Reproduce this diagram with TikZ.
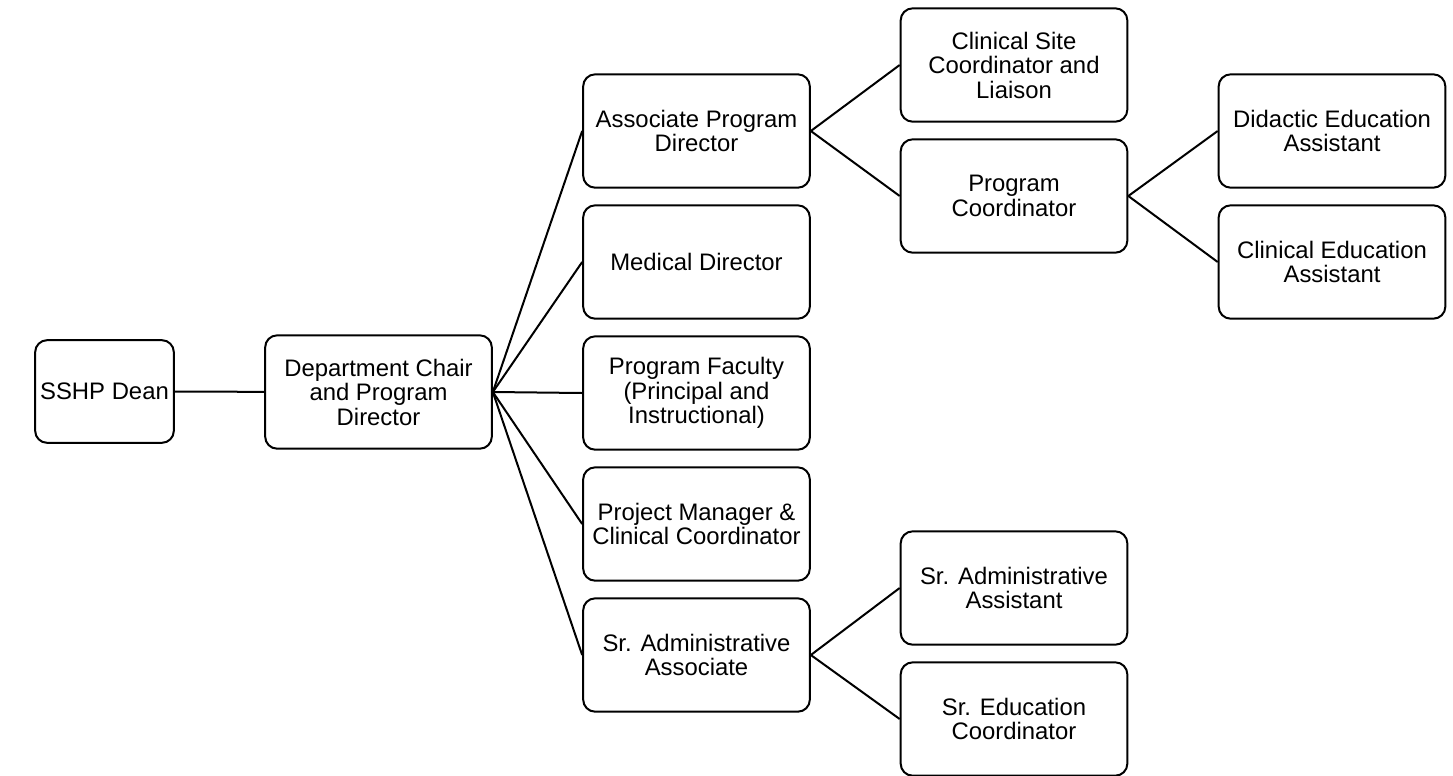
\documentclass[tikz,border=0pt]{standalone}
\usepackage{fontspec}
\setmainfont{Liberation Sans}
\begin{document}
\begin{tikzpicture}[x=0.75pt,y=-0.75pt,
    box/.style={draw, line width=1.5pt, rounded corners=9pt, minimum width=170pt,
        minimum height=85pt, inner sep=2pt, align=center,
        font=\fontsize{17.9pt}{18.4pt}\selectfont},
    link/.style={line width=1.5pt}]
    %\draw[help lines] (0,0) grid (1453,775);
    \useasboundingbox (0,0) rectangle (1453,775);
    \node[box, minimum width=104pt, minimum height=77pt] (dean) at (104.5,391.5) {SSHP Dean};
    \node[box] (chair) at (378.5,392) {Department Chair\\and Program\\Director};
    \node[box] (apd) at (696.5,131) {Associate Program\\Director};
    \node[box] (meddir) at (696.5,262) {Medical Director};
    \node[box] (faculty) at (696.5,393) {Program Faculty\\(Principal and\\Instructional)};
    \node[box] (projmgr) at (696.5,524) {Project Manager \&\\Clinical Coordinator};
    \node[box] (sradmassoc) at (696.5,655) {Sr. Administrative\\Associate};
    \node[box] (siteco) at (1014,65) {Clinical Site\\Coordinator and\\Liaison};
    \node[box] (progco) at (1014,196) {Program\\Coordinator};
    \node[box] (sradmasst) at (1014,588) {Sr. Administrative\\Assistant};
    \node[box] (sreduco) at (1014,719) {Sr. Education\\Coordinator};
    \node[box] (didactic) at (1332,131) {Didactic Education\\Assistant};
    \node[box] (clinedu) at (1332,262) {Clinical Education\\Assistant};
    \draw[link] (dean) -- (chair);
    \foreach \n in {apd,meddir,faculty,projmgr,sradmassoc}
        \draw[link] (chair.east) -- (\n.west);
    \draw[link] (apd.east) -- (siteco.west);
    \draw[link] (apd.east) -- (progco.west);
    \draw[link] (progco.east) -- (didactic.west);
    \draw[link] (progco.east) -- (clinedu.west);
    \draw[link] (sradmassoc.east) -- (sradmasst.west);
    \draw[link] (sradmassoc.east) -- (sreduco.west);
\end{tikzpicture}
\end{document}
